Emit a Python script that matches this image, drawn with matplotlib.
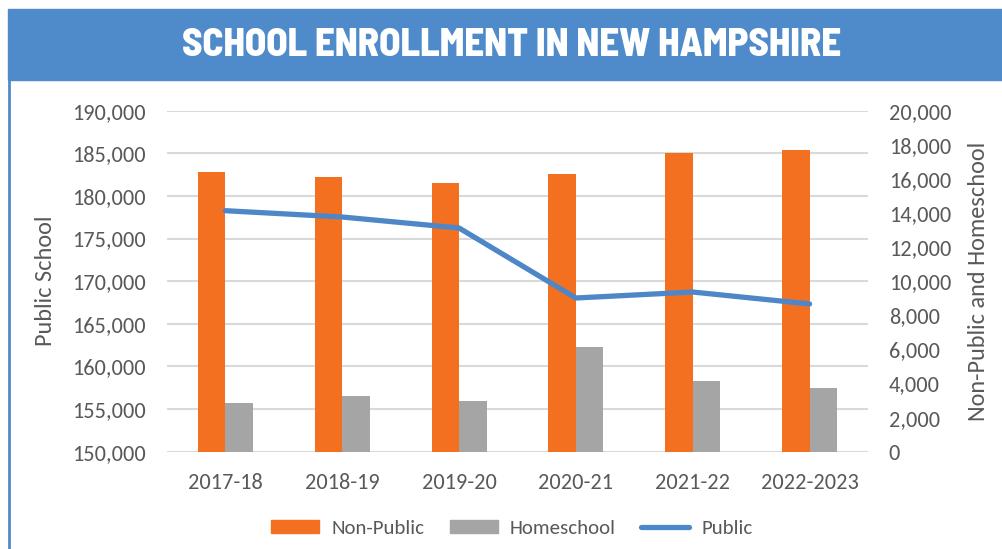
import numpy as np
import matplotlib
matplotlib.use("Agg")
import matplotlib.pyplot as plt
from matplotlib.patches import Rectangle
from matplotlib.lines import Line2D
from matplotlib.ticker import FuncFormatter

plt.rcParams['font.family'] = ['Carlito', 'Lato', 'DejaVu Sans']

years = ["2017-18", "2018-19", "2019-20", "2020-21", "2021-22", "2022-2023"]
non_public = [16400, 16100, 15750, 16300, 17500, 17700]
homeschool = [2860, 3270, 2970, 6140, 4170, 3720]
public = [178270, 177530, 176240, 168030, 168730, 167330]

orange = '#F37021'
gray = '#A5A5A5'
blue = '#4E87C7'
txt = '#595959'

W, H = 1002, 549
fig = plt.figure(figsize=(W / 100, H / 100), dpi=100)

# title banner + left border
fig.patches.append(Rectangle((8 / W, 1 - 80 / H), 1 - 8 / W, 71 / H,
                             transform=fig.transFigure, color='#4F8BCA', zorder=0))
fig.lines.append(Line2D([9 / W, 9 / W], [0, 1 - 80 / H], transform=fig.transFigure,
                        color='#4F8BCA', lw=2))
fig.text(512 / W, 1 - 45 / H, "SCHOOL ENROLLMENT IN NEW HAMPSHIRE", color='white',
         fontsize=28, fontweight='heavy',
         family=['Barlow Semi Condensed', 'Bebas Neue', 'DejaVu Sans'],
         ha='center', va='center')

pos = [167 / W, 1 - 451.7 / H, 701 / W, 341 / H]
x = np.arange(len(years))
w = 0.235

ax = fig.add_axes(pos)
ax.set_ylim(150000, 190000)
ax.set_yticks(np.arange(150000, 190001, 5000))
ax.yaxis.grid(True, color='#D9D9D9', lw=1.5)
ax.set_axisbelow(True)
ax.yaxis.set_major_formatter(FuncFormatter(lambda v, p: f"{int(v):,}"))
ax.set_ylabel("Public School", fontsize=17.5, color=txt, labelpad=12)

ax2 = ax.twinx()
ax2.bar(x - w / 2, non_public, w, color=orange, label='Non-Public')
ax2.bar(x + w / 2, homeschool, w, color=gray, label='Homeschool')
ax2.set_ylim(0, 20000)
ax2.set_yticks(np.arange(0, 20001, 2000))
ax2.yaxis.set_major_formatter(FuncFormatter(lambda v, p: f"{int(v):,}"))
ax2.set_ylabel("Non-Public and Homeschool", fontsize=17.5, color=txt, labelpad=12)

ax3 = ax.twinx()
ax3.plot(x, public, color=blue, lw=3.8, solid_capstyle='round', label='Public')
ax3.set_ylim(150000, 190000)
ax3.set_yticks([])

ax.set_xlim(-0.5, len(years) - 0.5)
ax.set_xticks(x)
ax.set_xticklabels(years)

for a in (ax, ax2, ax3):
    for s in a.spines.values():
        s.set_visible(False)
    a.tick_params(length=0, labelsize=16, labelcolor=txt, pad=15)

handles = [Rectangle((0, 0), 1, 1, color=orange), Rectangle((0, 0), 1, 1, color=gray),
           Line2D([], [], color=blue, lw=3.8, solid_capstyle='round')]
fig.legend(handles, ['Non-Public', 'Homeschool', 'Public'], loc='center',
           bbox_to_anchor=(512 / W, 1 - 528 / H), ncol=3, frameon=False,
           fontsize=15, labelcolor=txt, handlelength=2.3, handleheight=0.6,
           columnspacing=1.2, handletextpad=0.6)

fig.savefig("out.png", dpi=100)
